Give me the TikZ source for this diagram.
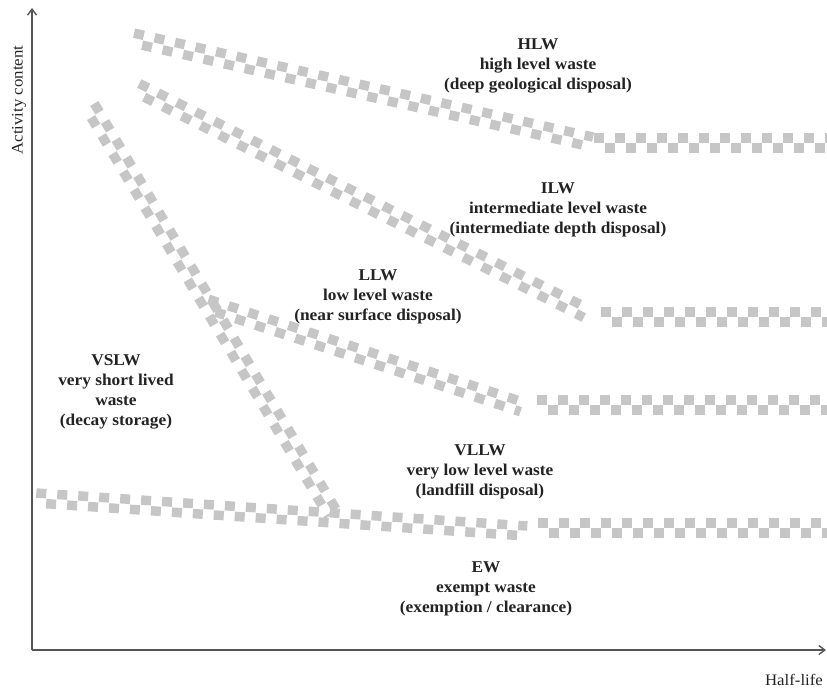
\documentclass[tikz,border=0pt]{standalone}
\usepackage{fontspec}
\setmainfont{Liberation Serif}[FakeStretch=1.05]
\usetikzlibrary{calc,arrows.meta}
\definecolor{bandgray}{RGB}{198,198,198}
\definecolor{axisgray}{RGB}{85,85,85}
\definecolor{txt}{RGB}{35,35,35}
\tikzset{
  bandline/.style={draw=bandgray, line width=9.5pt, dash pattern=on 10pt off 11pt},
  axisline/.style={draw=axisgray, line width=1.4pt, -{Straight Barb[length=6pt,width=9pt]}},
  zone/.style={align=center, text=txt, font=\fontsize{16.5}{20}\selectfont\bfseries, inner sep=0pt},
  axlabel/.style={text=txt, font=\fontsize{16}{18}\selectfont, inner sep=0pt}
}
\newcommand\band[2]{%
  \draw[bandline] ($(#1)!5pt!90:(#2)$) -- ($(#2)!5pt!-90:(#1)$);
  \draw[bandline, dash phase=10.5pt] ($(#1)!5pt!-90:(#2)$) -- ($(#2)!5pt!90:(#1)$);
}
\begin{document}
\begin{tikzpicture}[x=1pt,y=-1pt]
\useasboundingbox (0,0) rectangle (827,688);
% band coordinates
\coordinate (a1) at (133,38);  \coordinate (a2) at (592,142);
\coordinate (a3) at (594,143); \coordinate (a4) at (827,143);
\coordinate (b1) at (137,88);  \coordinate (b2) at (586,313);
\coordinate (b3) at (601,317); \coordinate (b4) at (827,317);
\coordinate (c1) at (207,304); \coordinate (c2) at (522,407);
\coordinate (c3) at (537,405); \coordinate (c4) at (827,405);
\coordinate (d1) at (90,106);  \coordinate (d2) at (333,514);
\coordinate (e1) at (36,498);  \coordinate (e2) at (527,531);
\coordinate (e3) at (538,528); \coordinate (e4) at (827,528);
\band{a1}{a2}
\band{a3}{a4}
\band{b1}{b2}
\band{b3}{b4}
\band{c1}{c2}
\band{c3}{c4}
\band{d1}{d2}
\band{e1}{e2}
\band{e3}{e4}
% axes
\coordinate (o) at (32,650);
\coordinate (ytop) at (32,8);
\coordinate (xend) at (826,650);
\draw[axisline] (o) -- (ytop);
\draw[axisline] (o) -- (xend);
\node[axlabel, rotate=90] (ylab) at (19,100) {Activity content};
\node[axlabel] (xlab) at (794,680) {Half-life};
% zones
\node[zone] (hlw) at (538,66) {HLW\\high level waste\\(deep geological disposal)};
\node[zone] (ilw) at (558,210) {ILW\\intermediate level waste\\(intermediate depth disposal)};
\node[zone] (llw) at (378,297) {LLW\\low level waste\\(near surface disposal)};
\node[zone] (vslw) at (116,392) {VSLW\\very short lived\\waste\\(decay storage)};
\node[zone] (vllw) at (480,472) {VLLW\\very low level waste\\(landfill disposal)};
\node[zone] (ew) at (486,589) {EW\\exempt waste\\(exemption / clearance)};
\end{tikzpicture}
\end{document}
